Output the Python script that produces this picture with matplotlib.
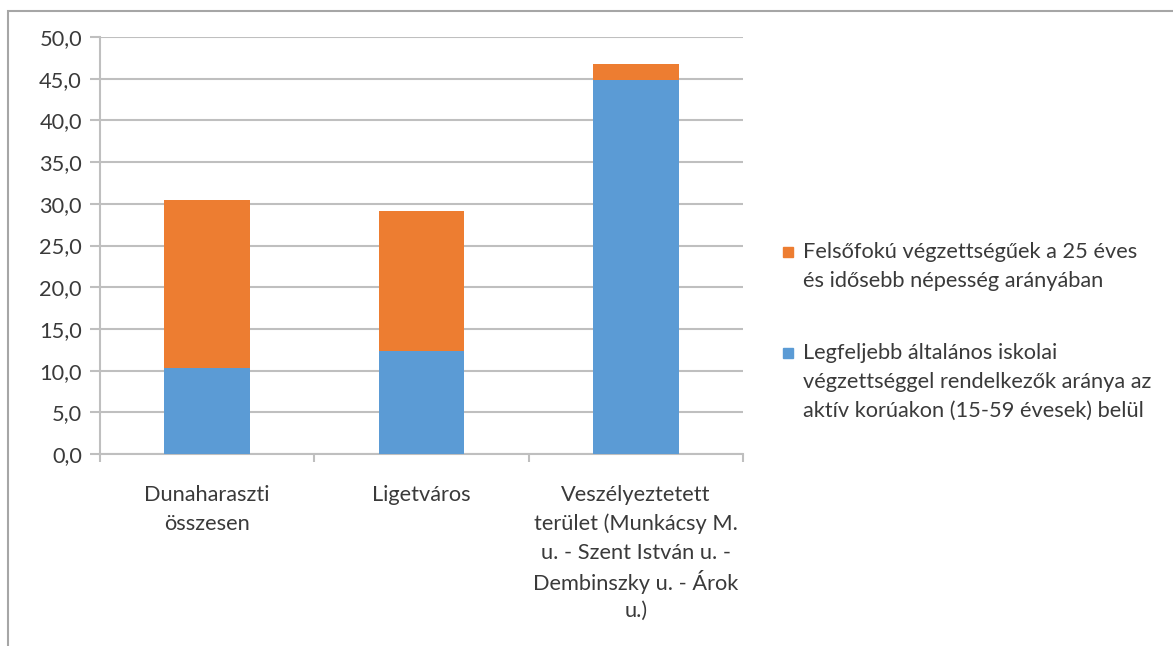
import numpy as np
import matplotlib.pyplot as plt
from matplotlib.patches import Rectangle
from matplotlib.transforms import blended_transform_factory, offset_copy

# Data
CATEGORIES = [
    "Dunaharaszti\nösszesen",
    "Ligetváros",
    "Veszélyeztetett\nterület (Munkácsy M.\nu. - Szent István u. -\nDembinszky u. - Árok\nu.)",
]
LOW_EDU = [10.3, 12.3, 44.9]      # Legfeljebb általános iskolai ...
HIGH_EDU = [20.2, 16.8, 1.9]      # Felsőfokú ...
LOW_LABEL = "Legfeljebb általános iskolai\nvégzettséggel rendelkezők aránya az\naktív korúakon (15-59 évesek) belül"
HIGH_LABEL = "Felsőfokú végzettségűek a 25 éves\nés idősebb népesség arányában"
Y_TICKS = np.arange(0, 50.1, 5)

BLUE = "#5B9BD5"
ORANGE = "#ED7D31"
GRID = "#BFBFBF"
TEXT = "#3A3A3A"
FS = 15.7
LINE_PX = 29  # line height of wrapped labels, pixels

plt.rcParams['font.family'] = ['Lato', 'DejaVu Sans']
plt.rcParams['font.size'] = FS

W, H = 1173, 646
fig = plt.figure(figsize=(W / 100, H / 100), dpi=100)
# outer chart border
fig.patches.append(Rectangle((8 / W, -0.1), 1.2, 1 - 11 / H + 0.1,
                             transform=fig.transFigure, fill=False,
                             edgecolor="#A6A6A6", linewidth=1.5))

ax = fig.add_axes([100 / W, 1 - 454 / H, 643 / W, 417 / H])
x = np.arange(len(CATEGORIES))
ax.bar(x, LOW_EDU, width=0.4, color=BLUE, zorder=3)
ax.bar(x, HIGH_EDU, width=0.4, bottom=LOW_EDU, color=ORANGE, zorder=3)

ax.set_xlim(-0.5, len(CATEGORIES) - 0.5)
ax.set_ylim(0, 50)
ax.set_yticks(Y_TICKS)
ax.set_yticklabels([f"{v:.1f}".replace(".", ",") for v in Y_TICKS], color=TEXT)
ax.yaxis.grid(True, color=GRID, linewidth=1.5, zorder=0)

ax.set_xticks(x)
ax.set_xticklabels([])
ax.set_xticks(np.arange(-0.5, len(CATEGORIES)), minor=True)
ax.tick_params(axis='x', which='major', length=0)
ax.tick_params(axis='x', which='minor', length=6, color=GRID, width=1.5)
ax.tick_params(axis='y', length=7, color=GRID, width=1.5, pad=6)

for side in ['top', 'right']:
    ax.spines[side].set_visible(False)
for side in ['left', 'bottom']:
    ax.spines[side].set_color(GRID)
    ax.spines[side].set_linewidth(1.5)

# category labels, one line at a time so the spacing stays even
trans = blended_transform_factory(ax.transData, ax.transAxes)
for xi, label in zip(x, CATEGORIES):
    for k, line in enumerate(label.split("\n")):
        t = offset_copy(trans, fig=fig, x=0, y=-(41 + k * LINE_PX) * 0.72, units='points')
        ax.text(xi, 0, line, transform=t, ha='center', va='center',
                color=TEXT, fontsize=FS, clip_on=False)

# legend, drawn by hand so the marker sits beside the first line
legend_items = [(ORANGE, HIGH_LABEL, 252), (BLUE, LOW_LABEL, 353)]
for color, label, ytop in legend_items:
    fig.patches.append(Rectangle((783 / W, 1 - (ytop + 5) / H), 10 / W, 10 / H,
                                 transform=fig.transFigure, color=color))
    for k, line in enumerate(label.split("\n")):
        fig.text(803 / W, 1 - (ytop + k * LINE_PX) / H, line, ha='left',
                 va='center', color=TEXT, fontsize=FS)

fig.savefig("out.png", dpi=100)
